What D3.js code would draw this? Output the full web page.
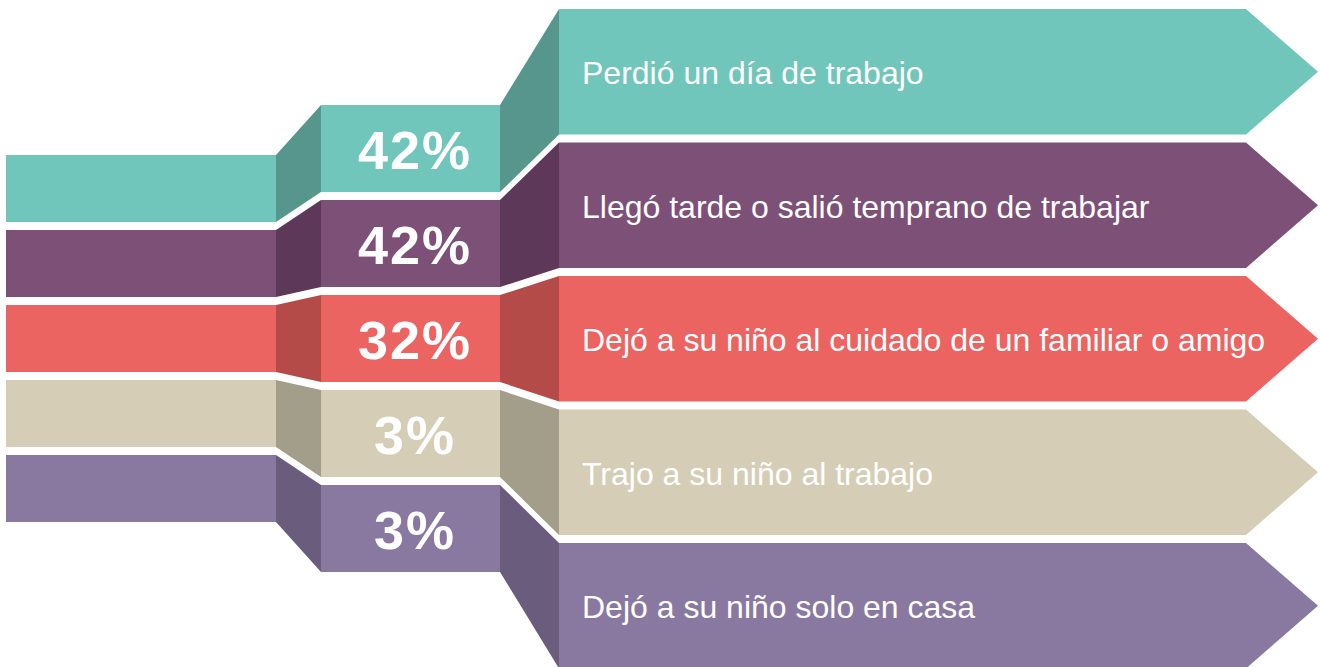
<!DOCTYPE html>
<html>
<head>
<meta charset="utf-8">
<script src="https://cdn.jsdelivr.net/npm/d3@7"></script>
<style>
  html, body { margin: 0; padding: 0; background: #ffffff; }
  svg { display: block; }
</style>
</head>
<body>
<svg id="chart" width="1320" height="667"></svg>
<script>
// ---- data ----
const categories = [
  "Perdió un día de trabajo",
  "Llegó tarde o salió temprano de trabajar",
  "Dejó a su niño al cuidado de un familiar o amigo",
  "Trajo a su niño al trabajo",
  "Dejó a su niño solo en casa"
];
const values = [42, 42, 32, 3, 3];
const faceColors = ["#71c6bb", "#7d5078", "#ec6462", "#d5cdb5", "#8979a1"];
const sideColors = ["#56968d", "#5d3859", "#b54b49", "#a29e89", "#695c7d"];

// ---- layout ----
const svg = d3.select("#chart");
const ids = d3.range(categories.length);

function band(y0, step, gap) {
  return d3.scaleBand().domain(ids)
    .range([y0, y0 + step * ids.length - gap])
    .paddingInner(gap / step).paddingOuter(0);
}
const yLeft = band(155, 75, 8);
const yMid = band(105, 95, 8);
const yRight = band(9, 133.5, 8);

const xCol = { l0: 6, l1: 276, m0: 321, m1: 500, r0: 559, r1: 1246, tip: 1318 };

const fmt = d => d + "%";
const line = d3.line();

const g = svg.append("g");

// connectors (darker sides)
g.selectAll("path.conn1").data(ids).join("path")
  .attr("class", "conn1")
  .attr("fill", i => sideColors[i])
  .attr("d", i => line([
    [xCol.l1, yLeft(i)], [xCol.m0, yMid(i)],
    [xCol.m0, yMid(i) + yMid.bandwidth()], [xCol.l1, yLeft(i) + yLeft.bandwidth()]
  ]) + "Z");

g.selectAll("path.conn2").data(ids).join("path")
  .attr("class", "conn2")
  .attr("fill", i => sideColors[i])
  .attr("d", i => line([
    [xCol.m1, yMid(i)], [xCol.r0, yRight(i)],
    [xCol.r0, yRight(i) + yRight.bandwidth()], [xCol.m1, yMid(i) + yMid.bandwidth()]
  ]) + "Z");

// left bars
g.selectAll("rect.left").data(ids).join("rect")
  .attr("class", "left")
  .attr("x", xCol.l0).attr("width", xCol.l1 - xCol.l0)
  .attr("y", i => yLeft(i)).attr("height", yLeft.bandwidth())
  .attr("fill", i => faceColors[i]);

// middle bars
g.selectAll("rect.mid").data(ids).join("rect")
  .attr("class", "mid")
  .attr("x", xCol.m0).attr("width", xCol.m1 - xCol.m0)
  .attr("y", i => yMid(i)).attr("height", yMid.bandwidth())
  .attr("fill", i => faceColors[i]);

// right arrows
g.selectAll("path.arrow").data(ids).join("path")
  .attr("class", "arrow")
  .attr("fill", i => faceColors[i])
  .attr("d", i => {
    const t = yRight(i), b = t + yRight.bandwidth(), m = (t + b) / 2;
    return line([[xCol.r0, t], [xCol.r1, t], [xCol.tip, m], [xCol.r1, b], [xCol.r0, b]]) + "Z";
  });

// percentages
const pctSize = 54;
g.selectAll("text.pct").data(ids).join("text")
  .attr("class", "pct")
  .attr("x", (xCol.m0 + xCol.m1) / 2 + 4.5)
  .attr("y", i => yMid(i) + yMid.bandwidth() / 2 + pctSize * 0.716 / 2 + 1)
  .attr("text-anchor", "middle")
  .attr("fill", "#ffffff")
  .attr("font-family", "'Liberation Sans', Arial, Helvetica, sans-serif")
  .attr("font-weight", "bold")
  .attr("font-size", pctSize)
  .attr("letter-spacing", 2)
  .text(i => fmt(values[i]));

// labels
const labSize = 32;
g.selectAll("text.lab").data(ids).join("text")
  .attr("class", "lab")
  .attr("x", 582)
  .attr("y", i => yRight(i) + yRight.bandwidth() / 2 + labSize * 0.716 / 2 + 1)
  .attr("fill", "#ffffff")
  .attr("font-family", "'Liberation Sans', Arial, Helvetica, sans-serif")
  .attr("font-size", labSize)
  .text(i => categories[i]);
</script>
</body>
</html>
